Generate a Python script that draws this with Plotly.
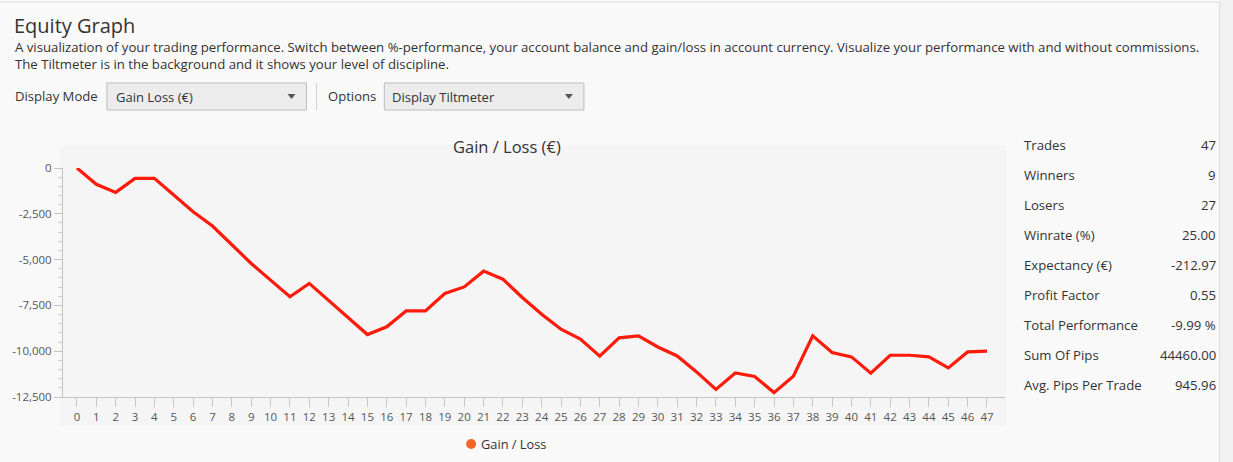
import plotly.graph_objects as go

trades = list(range(48))
gain_loss = [0, -890, -1330, -565, -565, -1475, -2390, -3170, -4210, -5210,
             -6120, -7030, -6300, -7210, -8160, -9090, -8670, -7800, -7800, -6850,
             -6490, -5630, -6070, -7070, -7980, -8800, -9340, -10270, -9270, -9160,
             -9770, -10260, -11130, -12090, -11190, -11380, -12260, -11370, -9160, -10070,
             -10310, -11200, -10220, -10220, -10310, -10910, -10040, -10000]

y_tickvals = [0, -2500, -5000, -7500, -10000, -12500]
y_ticktext = ["0", "-2,500", "-5,000", "-7,500", "-10,000", "-12,500"]

stat_labels = ["Trades", "Winners", "Losers", "Winrate (%)", "Expectancy (€)",
               "Profit Factor", "Total Performance", "Sum Of Pips", "Avg. Pips Per Trade"]
stat_values = ["47", "9", "27", "25.00", "-212.97", "0.55", "-9.99 %", "44460.00", "945.96"]

W, H = 1233, 462
L, R, T, B = 61, 1005, 168, 397
FONT = "Open Sans"
TXT = "#333333"

def px(x):
    return (x - L) / (R - L)

def py(y):
    return (B - y) / (B - T)

fig = go.Figure()
fig.add_trace(go.Scatter(x=trades, y=gain_loss, mode="lines", name="Gain / Loss",
                         line=dict(color="#ff1a0a", width=3.2), showlegend=False,
                         hoverinfo="x+y"))

shapes = []
# page panels
shapes.append(dict(type="rect", xref="paper", yref="paper", x0=px(1220), x1=px(1240),
                   y0=py(-10), y1=py(470), fillcolor="#f1f1f1", line=dict(width=0), layer="below"))
shapes.append(dict(type="line", xref="paper", yref="paper", x0=px(1220), x1=px(1220),
                   y0=py(2), y1=py(470), line=dict(color="#dcdcdc", width=1), layer="below"))
shapes.append(dict(type="line", xref="paper", yref="paper", x0=px(-5), x1=px(1220),
                   y0=py(2), y1=py(2), line=dict(color="#dcdcdc", width=1), layer="below"))
# chart background box
shapes.append(dict(type="rect", xref="paper", yref="paper", x0=px(58), x1=px(1006),
                   y0=py(145), y1=py(426), fillcolor="#f5f5f5", line=dict(width=0), layer="below"))
# dropdowns
for x0, x1 in [(105, 305), (383, 583)]:
    shapes.append(dict(type="rect", xref="paper", yref="paper", x0=px(x0), x1=px(x1),
                       y0=py(83), y1=py(110), fillcolor="#ececec",
                       line=dict(color="#bdbdbd", width=1), layer="above"))
    ax = x1 - 15
    shapes.append(dict(type="path", xref="paper", yref="paper",
                       path=f"M {px(ax-4)} {py(94)} L {px(ax+4)} {py(94)} L {px(ax)} {py(99)} Z",
                       fillcolor="#555555", line=dict(width=0), layer="above"))
shapes.append(dict(type="line", xref="paper", yref="paper", x0=px(315), x1=px(315),
                   y0=py(83), y1=py(110), line=dict(color="#d0d0d0", width=1), layer="above"))
# legend dot
shapes.append(dict(type="circle", xref="paper", yref="paper", x0=px(465), x1=px(475),
                   y0=py(439), y1=py(449), fillcolor="#f26522", line=dict(width=0), layer="above"))

ann = []
def text(x, y, s, size=13, anchor="left", color=TXT):
    ann.append(dict(x=px(x), y=py(y), xref="paper", yref="paper", text=s, showarrow=False,
                    xanchor=anchor, yanchor="middle", font=dict(family=FONT, size=size, color=color)))

text(10, 25, "Equity Graph", size=20)
text(11, 47, "A visualization of your trading performance. Switch between %-performance, your account balance and gain/loss in account currency. Visualize your performance with and without commissions.", size=13.2)
text(11, 64, "The Tiltmeter is in the background and it shows your level of discipline.", size=13.2)
text(11, 96, "Display Mode", size=13.1)
text(112, 97, "Gain Loss (€)", size=13)
text(325, 96, "Options", size=13.1)
text(389, 97, "Display Tiltmeter", size=13)
text(506, 147, "Gain / Loss (€)", size=16.5, anchor="center")
text(478, 444, "Gain / Loss", size=12.8)
for i, (lab, val) in enumerate(zip(stat_labels, stat_values)):
    yy = 145 + 30 * i
    text(1022, yy, lab, size=13.2)
    text(1218, yy, val, size=13.2, anchor="right")

fig.update_layout(
    width=W, height=H,
    margin=dict(l=L, r=W - R, t=T, b=H - B, pad=0),
    paper_bgcolor="#f9f9f9", plot_bgcolor="rgba(0,0,0,0)",
    font=dict(family=FONT, color="#555555", size=11.5),
    shapes=shapes, annotations=ann, showlegend=False,
    xaxis=dict(range=[-0.72, 47.93], tickmode="array", tickvals=trades,
               ticktext=[str(t) for t in trades], showgrid=False, zeroline=False,
               showline=True, linecolor="#c4c4c4", linewidth=1,
               ticks="outside", ticklen=9, tickcolor="#c8c8c8", tickwidth=1,
               tickfont=dict(family=FONT, size=11.5, color="#555555")),
    yaxis=dict(range=[-12500, 0], tickmode="array", tickvals=y_tickvals, ticktext=y_ticktext,
               showgrid=False, zeroline=False, showline=True, linecolor="#c4c4c4", linewidth=1,
               ticks="outside", ticklen=8, tickcolor="#c4c4c4", tickwidth=1,
               minor=dict(dtick=500, ticks="outside", ticklen=4, tickcolor="#d0d0d0", showgrid=False),
               tickfont=dict(family=FONT, size=11.5, color="#555555")),
)

fig.write_html("out.html", config={"displayModeBar": False},
               post_script="document.body.style.margin='0';document.body.style.background='#f9f9f9';")
